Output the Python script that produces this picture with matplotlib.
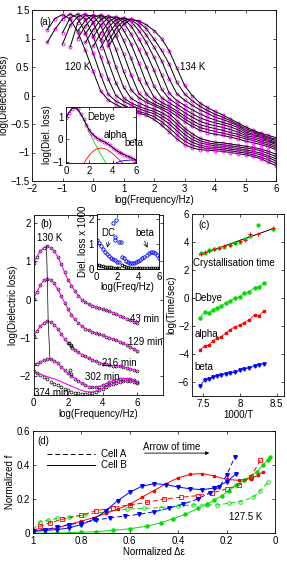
import numpy as np
import matplotlib
matplotlib.use("Agg")
from matplotlib import pyplot as plt
from matplotlib.lines import Line2D
from matplotlib.ticker import FuncFormatter

plt.rcParams['font.family'] = ['Liberation Sans', 'DejaVu Sans']
plt.rcParams['font.size'] = 7

# ---------------- panel (a): spectra 120 K ... 134 K ----------------
freq_a = [-1.5 + 0.25 * k for k in range(31)]
temps_a = list(range(120, 135))
N = None
loss_a = [
    [1.15, 1.35, 1.42, 1.34, 1.12, 0.79, 0.43, 0.08, -0.08, -0.16, -0.22, -0.27, -0.31, -0.35, -0.42, -0.52,
     -0.64, -0.76, -0.86, -0.92, -0.95, -0.96, -0.97, -0.98, -1.0, -1.02, -1.04, -1.07, -1.11, -1.17, -1.23],
    [0.93, 1.16, 1.34, 1.43, 1.36, 1.10, 0.75, 0.36, 0.02, -0.1, -0.17, -0.23, -0.28, -0.32, -0.37, -0.46,
     -0.57, -0.69, -0.8, -0.87, -0.91, -0.93, -0.94, -0.95, -0.97, -0.99, -1.01, -1.04, -1.08, -1.13, -1.19],
    [N, N, 1.1, 1.36, 1.43, 1.34, 1.05, 0.68, 0.29, 0.0, -0.1, -0.17, -0.23, -0.28, -0.32, -0.4,
     -0.5, -0.62, -0.74, -0.82, -0.87, -0.9, -0.91, -0.92, -0.94, -0.96, -0.98, -1.01, -1.04, -1.09, -1.15],
    [N, N, 0.9, 1.23, 1.385, 1.43, 1.29, 0.98, 0.59, 0.22, -0.04, -0.13, -0.19, -0.24, -0.28, -0.35,
     -0.44, -0.56, -0.68, -0.77, -0.83, -0.86, -0.88, -0.89, -0.91, -0.93, -0.95, -0.98, -1.01, -1.06, -1.11],
    [N, N, N, 0.85, 1.28, 1.41, 1.40, 1.23, 0.91, 0.5, 0.15, -0.05, -0.13, -0.19, -0.24, -0.3,
     -0.38, -0.5, -0.62, -0.72, -0.79, -0.83, -0.85, -0.86, -0.88, -0.9, -0.92, -0.94, -0.97, -1.02, -1.07],
    [N, N, N, N, 1.13, 1.32, 1.415, 1.36, 1.14, 0.81, 0.43, 0.1, -0.04, -0.12, -0.18, -0.24,
     -0.32, -0.44, -0.57, -0.67, -0.75, -0.79, -0.82, -0.83, -0.85, -0.87, -0.89, -0.91, -0.94, -0.98, -1.03],
    [N, N, N, N, 1.0, 1.22, 1.375, 1.415, 1.31, 1.05, 0.73, 0.36, 0.04, -0.08, -0.15, -0.21,
     -0.27, -0.36, -0.46, -0.54, -0.61, -0.65, -0.68, -0.7, -0.73, -0.76, -0.8, -0.83, -0.86, -0.9, -0.95],
    [N, N, N, N, N, 1.08, 1.28, 1.40, 1.38, 1.24, 0.97, 0.65, 0.29, 0.02, -0.1, -0.17,
     -0.23, -0.31, -0.41, -0.49, -0.56, -0.6, -0.63, -0.66, -0.69, -0.72, -0.76, -0.79, -0.83, -0.87, -0.92],
    [N, N, N, N, N, 0.93, 1.15, 1.33, 1.40, 1.34, 1.15, 0.9, 0.57, 0.22, -0.03, -0.12,
     -0.19, -0.27, -0.36, -0.44, -0.51, -0.55, -0.58, -0.61, -0.65, -0.68, -0.73, -0.76, -0.8, -0.84, -0.89],
    [N, N, N, N, N, N, 1.02, 1.23, 1.37, 1.38, 1.28, 1.08, 0.81, 0.5, 0.16, -0.04,
     -0.13, -0.21, -0.3, -0.38, -0.45, -0.5, -0.53, -0.56, -0.6, -0.64, -0.7, -0.73, -0.77, -0.81, -0.86],
    [N, N, N, N, N, N, 0.86, 1.09, 1.28, 1.375, 1.345, 1.22, 1.0, 0.74, 0.44, 0.11,
     -0.06, -0.15, -0.24, -0.32, -0.39, -0.44, -0.48, -0.51, -0.55, -0.6, -0.67, -0.7, -0.74, -0.79, -0.84],
    [N, N, N, N, N, N, N, 0.97, 1.19, 1.33, 1.365, 1.30, 1.14, 0.93, 0.67, 0.36,
     0.04, -0.09, -0.17, -0.25, -0.32, -0.38, -0.43, -0.47, -0.51, -0.56, -0.64, -0.68, -0.72, -0.77, -0.82],
    [N, N, N, N, N, N, N, 0.84, 1.07, 1.26, 1.355, 1.33, 1.23, 1.06, 0.85, 0.61,
     0.29, 0.03, -0.08, -0.17, -0.25, -0.31, -0.38, -0.42, -0.47, -0.53, -0.61, -0.65, -0.7, -0.75, -0.79],
    [N, N, N, N, N, N, N, N, 0.95, 1.17, 1.31, 1.345, 1.29, 1.17, 0.99, 0.79,
     0.55, 0.23, 0.03, -0.09, -0.19, -0.26, -0.33, -0.38, -0.44, -0.51, -0.58, -0.63, -0.68, -0.73, -0.77],
    [N, N, N, N, N, N, N, N, 0.86, 1.07, 1.25, 1.335, 1.31, 1.24, 1.14, 1.0,
     0.78, 0.48, 0.18, 0.0, -0.13, -0.21, -0.28, -0.34, -0.41, -0.48, -0.55, -0.61, -0.66, -0.70, -0.74],
]

# inset of (a): one spectrum and its three components
freq_ia = [0.25 * k for k in range(25)]
total_ia = [0.95, 1.2, 1.37, 1.43, 1.35, 1.15, 0.93, 0.66, 0.42, 0.25, 0.13, 0.03, -0.04, -0.1, -0.17,
            -0.26, -0.36, -0.46, -0.55, -0.62, -0.68, -0.74, -0.8, -0.86, -0.92]
debye_x = [0.25 * k for k in range(15)]
debye_y = [0.95, 1.2, 1.37, 1.43, 1.35, 1.15, 0.93, 0.62, 0.32, 0.05, -0.2, -0.45, -0.68, -0.9, -1.12]
alpha_x = [1.5, 1.75, 2.0, 2.25, 2.5, 2.75, 3.0, 3.25, 3.5, 3.75, 4.0, 4.25, 4.5, 4.75, 5.0]
alpha_y = [-1.1, -0.88, -0.7, -0.56, -0.46, -0.4, -0.38, -0.4, -0.45, -0.53, -0.63, -0.75, -0.88, -1.0, -1.12]
beta_x = [4.0, 4.25, 4.5, 4.75, 5.0, 5.25, 5.5, 5.75, 6.0]
beta_y = [-1.15, -1.06, -1.0, -0.96, -0.94, -0.93, -0.92, -0.92, -0.93]

# ---------------- panel (b): 130 K, ageing times ----------------
freq_b = [0.2 * k for k in range(31)]
ages_b = ['43 min', '129 min', '216 min', '302 min', '374 min']
loss_b = [
    [0.95, 1.12, 1.27, 1.36, 1.39, 1.36, 1.27, 1.12, 0.93, 0.72, 0.52, 0.36, 0.22, 0.1, 0.0, -0.07,
     -0.12, -0.16, -0.19, -0.22, -0.25, -0.28, -0.31, -0.34, -0.38, -0.42, -0.46, -0.5, -0.54, -0.58, -0.62],
    [0.02, 0.2, 0.38, 0.5, 0.55, 0.52, 0.42, 0.27, 0.1, -0.08, -0.25, -0.4, -0.52, -0.62, -0.7, -0.76,
     -0.81, -0.85, -0.88, -0.91, -0.94, -0.97, -1.0, -1.03, -1.06, -1.1, -1.14, -1.19, -1.24, -1.3, -1.36],
    [-0.95, -0.82, -0.7, -0.61, -0.57, -0.59, -0.66, -0.77, -0.9, -1.03, -1.14, -1.23, -1.31, -1.38, -1.44, -1.49,
     -1.54, -1.58, -1.62, -1.65, -1.68, -1.7, -1.72, -1.73, -1.74, -1.75, -1.77, -1.79, -1.81, -1.84, -1.87],
    [-1.7, -1.68, -1.64, -1.59, -1.56, -1.56, -1.6, -1.67, -1.76, -1.85, -1.93, -2.0, -2.07, -2.13, -2.19, -2.24,
     -2.28, -2.3, -2.3, -2.28, -2.25, -2.21, -2.17, -2.13, -2.1, -2.08, -2.07, -2.07, -2.08, -2.11, -2.15],
    [-1.87, -1.92, -1.97, -2.03, -2.09, -2.15, -2.2, -2.25, -2.3, -2.35, -2.38, -2.41, -2.44, -2.46, -2.47, -2.47,
     -2.46, -2.44, -2.41, -2.37, -2.33, -2.29, -2.25, -2.21, -2.18, -2.16, -2.14, -2.13, -2.13, -2.15, -2.19],
]
fit_374 = [-1.9, -1.93, -1.96, -1.99, -2.02, -2.05, -2.08, -2.11, -2.15, -2.19, -2.23, -2.27, -2.31, -2.35, -2.38,
           -2.41, -2.42, -2.42, -2.4, -2.37, -2.33, -2.29, -2.25, -2.21, -2.18, -2.16, -2.14, -2.13, -2.13,
           -2.15, -2.19]
glitch_x = [2.05, 2.15, 2.25, 2.1, 2.2]
glitch_y = [-1.15, -1.2, -1.26, -1.85, -1.95]
peak_x = [0.75, 0.8, 0.85, 0.95]
peak_y = [1.39, 0.55, -0.57, -1.56]

# inset of (b): dielectric loss x 1000
freq_ib = [0.2 * k for k in range(31)]
blue_ib = [1.15, 1.05, 0.93, 0.8, 0.68, 0.6, 0.52, 0.45, 0.4, 0.36, 0.3, 0.27, 0.5, 0.45, 0.33, 0.27,
           0.24, 0.24, 0.26, 0.29, 0.33, 0.38, 0.44, 0.5, 0.57, 0.63, 0.68, 0.7, 0.66, 0.55, 0.44]
blue_out_x = [1.6, 1.9, 1.75, 1.8, 2.15, 2.35]
blue_out_y = [1.85, 1.97, 1.3, 1.15, 1.07, 1.1]
black_ib = [0.17, 0.15, 0.13, 0.12, 0.1, 0.09, 0.08, 0.07, 0.06, 0.05, 0.04, 0.04, 0.15, 0.12, 0.09, 0.07,
            0.06, 0.05, 0.05, 0.04, 0.04, 0.04, 0.04, 0.03, 0.03, 0.03, 0.03, 0.03, 0.03, 0.03, 0.03]

# ---------------- panel (c): time scales vs 1000/T ----------------
inv_t = [7.46, 7.52, 7.58, 7.63, 7.69, 7.75, 7.81, 7.87, 7.94, 8.0, 8.06, 8.13, 8.2, 8.26, 8.33]
t_debye = [-1.4, -0.98, -1.05, -0.85, -0.7, -0.55, -0.35, -0.2, 0.0, 0.1, 0.35, 0.45, 0.75, 0.8, 1.05]
t_alpha = [-3.7, -3.45, -3.35, -3.1, -2.85, -2.75, -2.5, -2.25, -2.05, -1.95, -1.75, -1.55, -1.2, -1.25, -0.9]
t_beta = [-6.3, -5.85, -5.8, -5.65, -5.55, -5.5, -5.4, -5.35, -5.3, -5.15, -5.05, -5.0, -4.85, -4.75, -4.7]
cryst_x = [7.47, 7.52, 7.58, 7.65, 7.72, 7.79, 7.86, 7.93, 8.0, 8.07, 8.14, 8.25, 8.45]
cryst_red = [3.15, 3.28, 3.35, 3.47, 3.55, 3.7, 3.78, 3.9, 4.05, 4.15, 4.55, 4.6, 4.98]
cryst_green = [3.2, 3.22, 3.4, 3.5, 3.6, 3.65, 3.82, 3.95, 4.0, 4.2, 4.4, 5.2, 4.95]

# ---------------- panel (d): normalized f vs normalized delta eps ----------------
red_b_x = [1.0, 0.95, 0.9, 0.85, 0.8, 0.75, 0.7, 0.65, 0.6, 0.55, 0.5, 0.45, 0.4, 0.35, 0.3, 0.25, 0.2,
           0.15, 0.1, 0.07, 0.05]
red_b_y = [0.015, 0.02, 0.03, 0.05, 0.07, 0.09, 0.115, 0.14, 0.17, 0.21, 0.25, 0.29, 0.325, 0.345, 0.35,
           0.335, 0.315, 0.31, 0.32, 0.34, 0.36]
red_a_x = [1.0, 0.97, 0.93, 0.88, 0.8, 0.74, 0.67, 0.6, 0.53, 0.46, 0.39, 0.32, 0.26, 0.2, 0.15, 0.1, 0.06]
red_a_y = [0.01, 0.04, 0.06, 0.08, 0.105, 0.13, 0.15, 0.165, 0.18, 0.2, 0.21, 0.22, 0.235, 0.26, 0.28,
           0.33, 0.43]
blue_b_x = [1.0, 0.95, 0.9, 0.85, 0.8, 0.75, 0.7, 0.65, 0.6, 0.55, 0.5, 0.45, 0.4, 0.35, 0.3, 0.25, 0.2, 0.16]
blue_b_y = [0.01, 0.015, 0.02, 0.03, 0.05, 0.08, 0.13, 0.19, 0.24, 0.275, 0.29, 0.285, 0.27, 0.26, 0.255,
            0.265, 0.3, 0.35]
blue_a_x = [1.0, 0.95, 0.9, 0.85, 0.8, 0.74, 0.68, 0.62, 0.56, 0.5, 0.44, 0.38, 0.32, 0.27, 0.23, 0.2, 0.165]
blue_a_y = [0.01, 0.02, 0.035, 0.05, 0.06, 0.075, 0.09, 0.1, 0.11, 0.125, 0.145, 0.17, 0.2, 0.235, 0.27,
            0.34, 0.45]
green_b_x = [1.0, 0.95, 0.9, 0.85, 0.8, 0.74, 0.67, 0.6, 0.53, 0.47, 0.42, 0.37, 0.32, 0.28, 0.25, 0.22,
             0.19, 0.16, 0.13, 0.1, 0.075, 0.05, 0.03, 0.02]
green_b_y = [0.0, 0.0, 0.0, 0.002, 0.005, 0.008, 0.015, 0.025, 0.04, 0.06, 0.085, 0.11, 0.145, 0.17, 0.195,
             0.22, 0.25, 0.28, 0.31, 0.335, 0.36, 0.4, 0.43, 0.45]
green_a_x = [1.0, 0.97, 0.94, 0.9, 0.85, 0.79, 0.7, 0.61, 0.54, 0.47, 0.4, 0.34, 0.28, 0.24, 0.19, 0.145,
             0.09, 0.06, 0.028]
green_a_y = [0.02, 0.066, 0.075, 0.086, 0.095, 0.105, 0.125, 0.14, 0.145, 0.15, 0.158, 0.165, 0.165, 0.165,
             0.175, 0.185, 0.21, 0.25, 0.3]

RED, GREEN, BLUE, MAG = '#ff0000', '#00dd00', '#0000ff', '#ff00ff'
W, H = 287, 565


def box(l, t, r, b):
    return [l / W, 1 - b / H, (r - l) / W, (b - t) / H]


def fmt(v, pos):
    return ('%g' % round(v, 3)).replace('-', '\u2212')


def style(ax, size=7):
    ax.tick_params(direction='in', length=2.5, width=0.5, top=True, right=True,
                   labelsize=size, pad=2)
    for s in ax.spines.values():
        s.set_linewidth(0.6)
    ax.xaxis.set_major_formatter(FuncFormatter(fmt))
    ax.yaxis.set_major_formatter(FuncFormatter(fmt))


fig = plt.figure(figsize=(W / 100, H / 100), dpi=100)

# ---- (a)
ax = fig.add_axes(box(32, 10, 276, 181))
fa = np.array(freq_a)
for row in loss_a:
    y = np.array([np.nan if v is None else v for v in row])
    ax.plot(fa, y, 'o', ms=2.2, mfc='none', mec=MAG, mew=0.6)
    ax.plot(fa, y, '-', color='k', lw=0.7)
ax.set_xlim(-2, 6)
ax.set_ylim(-1.5, 1.5)
ax.set_xticks(range(-2, 7))
ax.set_yticks(np.arange(-1.5, 1.6, 0.5))
style(ax)
ax.set_xlabel('log(Frequency/Hz)', labelpad=1)
ax.set_ylabel('log(Dielectric loss)', labelpad=1)
ax.text(-1.75, 1.29, '(a)', va='center')
ax.text(-0.92, 0.5, '120 K', va='center')
ax.text(2.85, 0.5, '134 K', va='center')

ai = fig.add_axes(box(66, 107, 136, 163))
ai.set_zorder(5)
ai.plot(debye_x, debye_y, color=GREEN, lw=0.6)
ai.plot(alpha_x, alpha_y, color=RED, lw=0.6)
ai.plot(beta_x, beta_y, color=BLUE, lw=0.6)
ai.plot(freq_ia, total_ia, 'o', ms=2.2, mfc='none', mec=MAG, mew=0.6)
ai.plot(freq_ia, total_ia, '-', color='k', lw=0.7)
ai.set_xlim(0, 6)
ai.set_ylim(-1.05, 1.45)
ai.set_xticks([0, 2, 4, 6])
ai.set_yticks([-1, 0, 1])
style(ai)
ai.set_ylabel('log(Diel. loss)', labelpad=0)
ai.text(1.8, 1.0, 'Debye', va='center')
ai.text(3.2, 0.2, 'alpha', va='center')
ai.text(5.0, -0.15, 'beta', va='center', clip_on=False)

# ---- (b)
bx = fig.add_axes(box(33.5, 215.5, 163, 395))
fb = np.array(freq_b)
for i, row in enumerate(loss_b):
    bx.plot(fb, row, 'o', ms=2.1, mfc='none', mec='k', mew=0.5)
    bx.plot(fb, fit_374 if i == 4 else row, '-', color=MAG, lw=0.8)
bx.plot(glitch_x, glitch_y, 'o', ms=2.1, mfc='none', mec='k', mew=0.5)
bx.plot(peak_x, peak_y, '-', color='k', lw=0.5)
bx.set_xlim(0, 7.5)
bx.set_ylim(-2.5, 2.2)
bx.set_xticks([0, 2, 4, 6])
bx.set_yticks([-2, -1, 0, 1, 2])
style(bx)
bx.set_xlabel('log(Frequency/Hz)', labelpad=1)
bx.set_ylabel('log(Dielectric loss)', labelpad=1)
bx.text(0.38, 1.98, '(b)', va='center')
bx.text(0.2, 1.61, '130 K', va='center')
bx.text(5.6, -0.5, ages_b[0], va='center')
bx.text(5.47, -1.1, ages_b[1], va='center')
bx.text(3.97, -1.66, ages_b[2], va='center')
bx.text(2.98, -2.02, ages_b[3], va='center')
bx.text(0.05, -2.44, ages_b[4], va='center')

bi = fig.add_axes(box(96.5, 214, 159, 269))
bi.set_zorder(5)
bi.plot(freq_ib, blue_ib, 'o', ms=2.4, mfc='none', mec=BLUE, mew=0.6)
bi.plot(blue_out_x, blue_out_y, 'o', ms=2.4, mfc='none', mec=BLUE, mew=0.6)
bi.plot(freq_ib, black_ib, 'o', ms=2.0, mfc='none', mec='k', mew=0.6)
bi.set_xlim(0, 6)
bi.set_ylim(0, 2.2)
bi.set_xticks([0, 2, 4, 6])
bi.set_yticks([0, 1, 2])
style(bi)
bi.set_xlabel('log(Freq/Hz)', labelpad=0)
bi.set_ylabel('Diel. loss x 1000', labelpad=0)
bi.text(0.45, 1.45, 'DC', va='center')
bi.text(3.75, 1.45, 'beta', va='center')
bi.annotate('', xy=(0.95, 0.75), xytext=(1.25, 1.2),
            arrowprops=dict(arrowstyle='->', lw=0.5, color='k'))
bi.annotate('', xy=(5.0, 0.75), xytext=(4.5, 1.22),
            arrowprops=dict(arrowstyle='->', lw=0.5, color='k'))

# ---- (c)
cx = fig.add_axes(box(192, 214, 284, 396))
cx.plot(inv_t, t_debye, '-o', color=GREEN, lw=0.6, ms=2.2)
cx.plot(inv_t, t_alpha, '-s', color=RED, lw=0.6, ms=2.0)
cx.plot(inv_t, t_beta, '-v', color=BLUE, lw=0.6, ms=2.4)
cfit = np.polyfit(cryst_x, cryst_red, 1)
cxx = np.array([min(cryst_x) - 0.02, max(cryst_x) + 0.02])
cx.plot(cxx, np.polyval(cfit, cxx), '-', color='k', lw=0.7)
cx.plot(cryst_x, cryst_green, 'o', color=GREEN, ms=2.0)
cx.plot(cryst_x, cryst_red, '+', color=RED, ms=3.0, mew=0.7)
cx.set_xlim(7.35, 8.6)
cx.set_ylim(-7, 6)
cx.set_xticks([7.5, 8, 8.5])
cx.set_yticks([-6, -4, -2, 0, 2, 4, 6])
style(cx)
cx.set_xlabel('1000/T', labelpad=1)
cx.set_ylabel('log(Time/sec)', labelpad=1)
cx.text(7.44, 5.2, '(c)', va='center')
cx.text(7.36, 2.5, 'Crystallisation time', va='center')
cx.text(7.38, 0.0, 'Debye', va='center')
cx.text(7.38, -2.6, 'alpha', va='center')
cx.text(7.38, -4.9, 'beta', va='center')

# ---- (d)
dx = fig.add_axes(box(33, 431, 275, 533))
dash = (0, (5, 3))
dx.plot(green_b_x, green_b_y, '-o', color=GREEN, lw=0.7, ms=2.2)
dx.plot(green_a_x, green_a_y, 'o', color=GREEN, ls=dash, lw=0.7, ms=2.6, mfc='none', mew=0.6)
dx.plot(red_a_x, red_a_y, 's', color=RED, ls=dash, lw=0.7, ms=2.2, mfc='none', mew=0.6)
dx.plot(red_b_x, red_b_y, '-s', color=RED, lw=0.7, ms=2.0)
dx.plot(blue_a_x, blue_a_y, 'v', color=BLUE, ls=dash, lw=0.7, ms=2.6)
dx.plot(blue_b_x, blue_b_y, '-v', color=BLUE, lw=0.7, ms=2.6)
dx.set_xlim(1, 0)
dx.set_ylim(0, 0.6)
dx.set_xticks([1, 0.8, 0.6, 0.4, 0.2, 0])
dx.set_yticks([0, 0.2, 0.4, 0.6])
style(dx)
dx.set_xlabel('Normalized \u0394\u03b5', labelpad=1)
dx.set_ylabel('Normalized f', labelpad=1)
dx.text(0.98, 0.54, '(d)', va='center')
dx.text(0.545, 0.505, 'Arrow of time', va='center')
dx.annotate('', xy=(0.26, 0.47), xytext=(0.55, 0.47),
            arrowprops=dict(arrowstyle='-|>', lw=0.6, color='k', mutation_scale=5))
dx.text(0.19, 0.095, '127.5 K', va='center')
handles = [Line2D([], [], color='k', lw=0.7, ls=dash), Line2D([], [], color='k', lw=0.7)]
dx.legend(handles, ['Cell A', 'Cell B'], loc='upper left', bbox_to_anchor=(0.04, 0.86),
          frameon=False, handlelength=5, handletextpad=0.6, labelspacing=0.1,
          borderaxespad=0, fontsize=7)

fig.savefig('out.png', dpi=100)
